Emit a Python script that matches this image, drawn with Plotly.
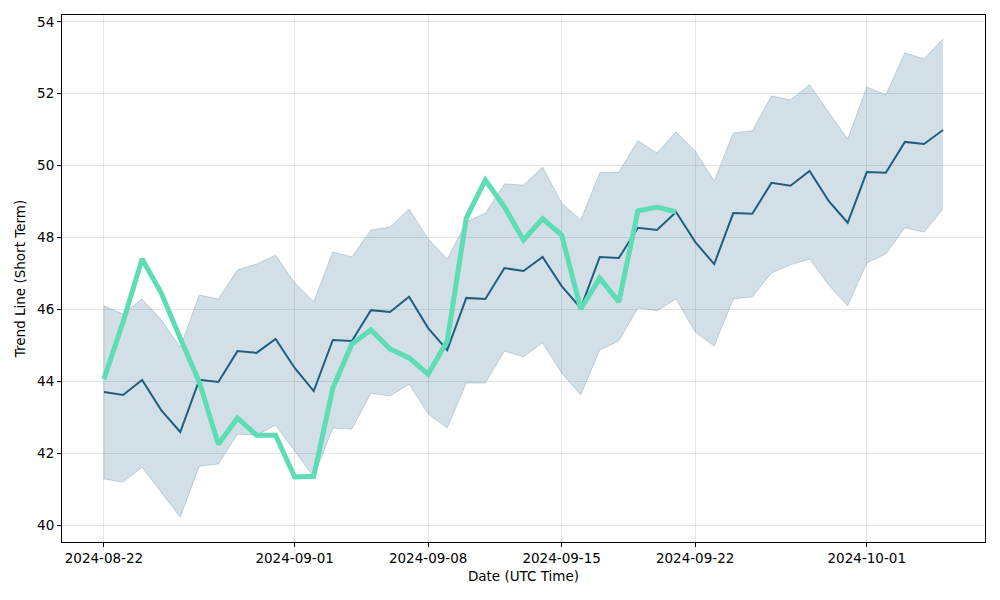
import pandas as pd
import plotly.graph_objects as go

dates = pd.date_range("2024-08-22", periods=45, freq="D")

trend = [43.70, 43.62, 44.04, 43.20, 42.59, 44.04, 43.98, 44.84, 44.79, 45.18,
         44.37, 43.73, 45.15, 45.12, 45.98, 45.93, 46.35, 45.48, 44.87, 46.32,
         46.29, 47.15, 47.07, 47.46, 46.65, 46.04, 47.46, 47.43, 48.27, 48.21,
         48.71, 47.88, 47.26, 48.68, 48.66, 49.52, 49.44, 49.85, 49.02, 48.41,
         49.82, 49.80, 50.66, 50.60, 50.99]

upper = [46.10, 45.87, 46.29, 45.71, 44.95, 46.40, 46.29, 47.10, 47.26, 47.51,
         46.74, 46.21, 47.60, 47.46, 48.21, 48.29, 48.79, 47.96, 47.40, 48.43,
         48.68, 49.49, 49.46, 49.96, 48.96, 48.49, 49.80, 49.82, 50.69, 50.35,
         50.94, 50.41, 49.57, 50.91, 50.97, 51.94, 51.83, 52.25, 51.49, 50.74,
         52.19, 51.97, 53.14, 52.97, 53.53]

lower = [41.28, 41.20, 41.61, 40.92, 40.22, 41.64, 41.70, 42.53, 42.50, 42.78,
         42.06, 41.34, 42.70, 42.67, 43.67, 43.59, 43.92, 43.09, 42.70, 43.95,
         43.95, 44.84, 44.68, 45.07, 44.23, 43.62, 44.87, 45.12, 46.04, 45.96,
         46.29, 45.37, 44.98, 46.29, 46.35, 47.01, 47.24, 47.40, 46.68, 46.10,
         47.29, 47.54, 48.27, 48.15, 48.79]

actual = [44.06, 45.65, 47.40, 46.46, 45.20, 43.98, 42.25, 42.98, 42.50, 42.50,
          41.34, 41.36, 43.81, 45.04, 45.43, 44.90, 44.65, 44.20, 45.12, 48.54,
          49.60, 48.85, 47.93, 48.52, 48.07, 46.01, 46.87, 46.21, 48.74, 48.85,
          48.71]

x_ticks = ["2024-08-22", "2024-09-01", "2024-09-08", "2024-09-15", "2024-09-22", "2024-10-01"]
y_ticks = [40, 42, 44, 46, 48, 50, 52, 54]

band_edge = "rgba(31,95,128,0.22)"
band_fill = "rgba(31,95,128,0.2)"

fig = go.Figure()
fig.add_trace(go.Scatter(x=dates, y=lower, mode="lines", line=dict(color=band_edge, width=1),
                         showlegend=False, hoverinfo="skip"))
fig.add_trace(go.Scatter(x=dates, y=upper, mode="lines", line=dict(color=band_edge, width=1),
                         fill="tonexty", fillcolor=band_fill, showlegend=False, hoverinfo="skip"))
fig.add_trace(go.Scatter(x=[dates[0], dates[0]], y=[lower[0], upper[0]], mode="lines",
                         line=dict(color=band_edge, width=1), showlegend=False, hoverinfo="skip"))
fig.add_trace(go.Scatter(x=dates, y=trend, mode="lines", line=dict(color="#1f5f80", width=2),
                         showlegend=False))
fig.add_trace(go.Scatter(x=dates[:len(actual)], y=actual, mode="lines",
                         line=dict(color="#5ddcb5", width=5), showlegend=False))

x0 = dates[0] - pd.Timedelta(days=2.2)
x1 = dates[-1] + pd.Timedelta(days=2.2)

font_main = dict(family="DejaVu Sans", size=13.5, color="black")

axis_common = dict(showline=True, linecolor="black", linewidth=1, mirror=True,
                   ticks="outside", ticklen=4, tickcolor="black",
                   showgrid=True, gridcolor="rgba(176,176,176,0.3)", gridwidth=1,
                   zeroline=False, tickfont=font_main)

fig.update_layout(
    width=1000, height=600,
    margin=dict(l=62, r=15, t=15, b=58),
    paper_bgcolor="white", plot_bgcolor="white",
    font=font_main,
    xaxis=dict(range=[x0, x1], tickvals=x_ticks, ticktext=x_ticks,
               title=dict(text="Date (UTC Time)", standoff=6, font=font_main), **axis_common),
    yaxis=dict(range=[39.53, 54.19], tickvals=y_ticks,
               title=dict(text="Trend Line (Short Term)", standoff=8, font=font_main), **axis_common),
)

fig.write_html("out.html")
